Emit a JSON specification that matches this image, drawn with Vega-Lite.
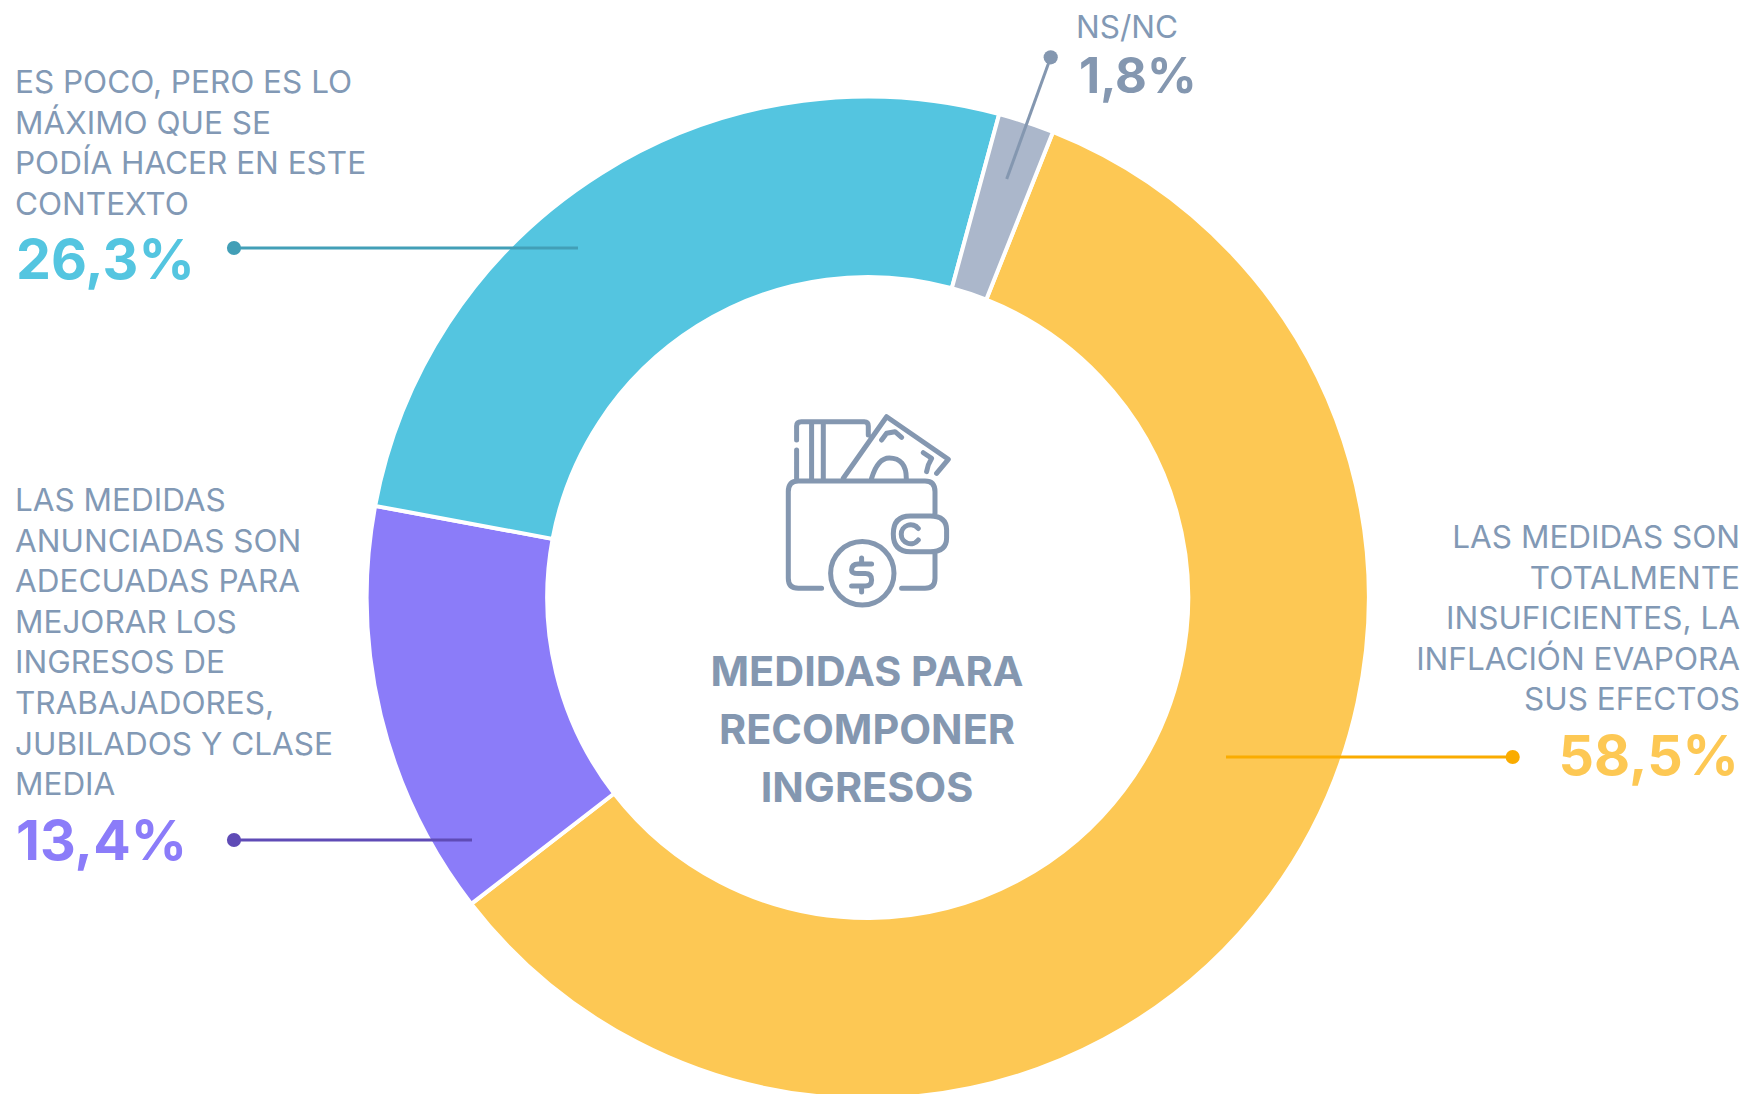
{
"$schema":"https://vega.github.io/schema/vega-lite/v6.json",
"width":1744,"height":1094,"padding":0,"autosize":{"type":"none"},"background":"white",
"config":{"view":{"stroke":null},"font":"Inter"},
"datasets":{
"segments":[
{"categoria":"Totalmente insuficientes","share":58.5,"orden":1},
{"categoria":"Adecuadas","share":13.4,"orden":2},
{"categoria":"Es poco","share":26.3,"orden":3},
{"categoria":"NS/NC","share":1.8,"orden":4}],
"leaders":[
{"categoria":"Totalmente insuficientes","x":1512.7,"y":757,"x2":1226,"y2":757},
{"categoria":"Adecuadas","x":234,"y":840,"x2":472,"y2":840},
{"categoria":"Es poco","x":234,"y":248,"x2":578,"y2":248},
{"categoria":"NS/NC","x":1050.7,"y":57.3,"x2":1006.7,"y2":179}],
"blocksL":[
{"categoria":"Es poco","texto":"ES POCO, PERO ES LO\nMÁXIMO QUE SE\nPODÍA HACER EN ESTE\nCONTEXTO","x":15,"y":93},
{"categoria":"Adecuadas","texto":"LAS MEDIDAS\nANUNCIADAS SON\nADECUADAS PARA\nMEJORAR LOS\nINGRESOS DE\nTRABAJADORES,\nJUBILADOS Y CLASE\nMEDIA","x":15,"y":511},
{"categoria":"NS/NC","texto":"NS/NC","x":1076,"y":38}],
"blocksR":[
{"categoria":"Totalmente insuficientes","texto":"LAS MEDIDAS SON\nTOTALMENTE\nINSUFICIENTES, LA\nINFLACIÓN EVAPORA\nSUS EFECTOS","x":1740,"y":548}],
"pctsL":[
{"categoria":"Es poco","pct":"26,3%","x":16,"y":279},
{"categoria":"Adecuadas","pct":"13,4%","x":16,"y":860}],
"pctsR":[
{"categoria":"Totalmente insuficientes","pct":"58,5%","x":1739,"y":775}],
"pctNS":[{"categoria":"NS/NC","pct":"1,8%","x":1079,"y":93}],
"title":[{"texto":"MEDIDAS PARA\nRECOMPONER\nINGRESOS","x":867,"y":686}],
"icon":[{"nombre":"billetera","x":868.3,"y":510}]
},
"layer":[
{"data":{"name":"segments"},
 "mark":{"type":"arc","radius":501,"radius2":320.5,"stroke":"white","strokeWidth":4},
 "encoding":{
  "x":{"datum":867.7,"type":"quantitative","scale":{"domain":[0,1744],"nice":false,"zero":false},"axis":null},
  "y":{"datum":597.5,"type":"quantitative","scale":{"domain":[0,1094],"nice":false,"zero":false,"reverse":true},"axis":null},
  "theta":{"field":"share","type":"quantitative","stack":true,"scale":{"domain":[0,100],"range":[0.3787,6.6619]}},
  "order":{"field":"orden","type":"quantitative"},
  "color":{"field":"categoria","type":"nominal","legend":null,"scale":{"domain":["Totalmente insuficientes","Adecuadas","Es poco","NS/NC"],"range":["#FDC854","#8B7CF9","#54C5E0","#ABB7CB"]}}
 }},
{"data":{"name":"leaders"},
 "layer":[
 {"mark":{"type":"rule","strokeWidth":3},
  "encoding":{
  "x":{"field":"x","type":"quantitative","scale":{"domain":[0,1744],"nice":false,"zero":false},"axis":null},
  "y":{"field":"y","type":"quantitative","scale":{"domain":[0,1094],"nice":false,"zero":false,"reverse":true},"axis":null},
  "x2":{"field":"x2"},"y2":{"field":"y2"},
  "color":{"field":"categoria","type":"nominal","legend":null,"scale":{"domain":["Totalmente insuficientes","Adecuadas","Es poco","NS/NC"],"range":["#FAAC00","#5F4BB6","#429FB7","#8497B0"]}}
  }},
 {"mark":{"type":"point","filled":true,"size":201,"opacity":1},
  "encoding":{
  "x":{"field":"x","type":"quantitative","scale":{"domain":[0,1744],"nice":false,"zero":false},"axis":null},
  "y":{"field":"y","type":"quantitative","scale":{"domain":[0,1094],"nice":false,"zero":false,"reverse":true},"axis":null},
  "color":{"field":"categoria","type":"nominal","legend":null,"scale":{"domain":["Totalmente insuficientes","Adecuadas","Es poco","NS/NC"],"range":["#FAAC00","#5F4BB6","#429FB7","#8497B0"]}}
  }}
 ]},
{"data":{"name":"blocksL"},
 "mark":{"type":"text","align":"left","baseline":"alphabetic","font":"Inter","fontSize":31.5,"lineHeight":40.6,"lineBreak":"\n","color":"#8299B5"},
 "encoding":{"x":{"field":"x","type":"quantitative","scale":{"domain":[0,1744],"nice":false,"zero":false},"axis":null},
  "y":{"field":"y","type":"quantitative","scale":{"domain":[0,1094],"nice":false,"zero":false,"reverse":true},"axis":null},
  "text":{"field":"texto"}}},
{"data":{"name":"blocksR"},
 "mark":{"type":"text","align":"right","baseline":"alphabetic","font":"Inter","fontSize":31.5,"lineHeight":40.6,"lineBreak":"\n","color":"#8299B5"},
 "encoding":{"x":{"field":"x","type":"quantitative","scale":{"domain":[0,1744],"nice":false,"zero":false},"axis":null},
  "y":{"field":"y","type":"quantitative","scale":{"domain":[0,1094],"nice":false,"zero":false,"reverse":true},"axis":null},
  "text":{"field":"texto"}}},
{"data":{"name":"pctsL"},
 "mark":{"type":"text","align":"left","baseline":"alphabetic","font":"Inter","fontWeight":"bold","fontSize":55.5},
 "encoding":{"x":{"field":"x","type":"quantitative","scale":{"domain":[0,1744],"nice":false,"zero":false},"axis":null},
  "y":{"field":"y","type":"quantitative","scale":{"domain":[0,1094],"nice":false,"zero":false,"reverse":true},"axis":null},
  "text":{"field":"pct"},
  "color":{"field":"categoria","type":"nominal","legend":null,"scale":{"domain":["Totalmente insuficientes","Adecuadas","Es poco","NS/NC"],"range":["#FDC854","#8B7CF9","#54C5E0","#8497B0"]}}}},
{"data":{"name":"pctsR"},
 "mark":{"type":"text","align":"right","baseline":"alphabetic","font":"Inter","fontWeight":"bold","fontSize":55.5},
 "encoding":{"x":{"field":"x","type":"quantitative","scale":{"domain":[0,1744],"nice":false,"zero":false},"axis":null},
  "y":{"field":"y","type":"quantitative","scale":{"domain":[0,1094],"nice":false,"zero":false,"reverse":true},"axis":null},
  "text":{"field":"pct"},
  "color":{"field":"categoria","type":"nominal","legend":null,"scale":{"domain":["Totalmente insuficientes","Adecuadas","Es poco","NS/NC"],"range":["#FDC854","#8B7CF9","#54C5E0","#8497B0"]}}}},
{"data":{"name":"pctNS"},
 "mark":{"type":"text","align":"left","baseline":"alphabetic","font":"Inter","fontWeight":"bold","fontSize":49,"color":"#8497B0"},
 "encoding":{"x":{"field":"x","type":"quantitative","scale":{"domain":[0,1744],"nice":false,"zero":false},"axis":null},
  "y":{"field":"y","type":"quantitative","scale":{"domain":[0,1094],"nice":false,"zero":false,"reverse":true},"axis":null},
  "text":{"field":"pct"}}},
{"data":{"name":"title"},
 "mark":{"type":"text","align":"center","baseline":"alphabetic","font":"Inter","fontWeight":"bold","fontSize":41.4,"lineHeight":58,"lineBreak":"\n","color":"#8497B0"},
 "encoding":{"x":{"field":"x","type":"quantitative","scale":{"domain":[0,1744],"nice":false,"zero":false},"axis":null},
  "y":{"field":"y","type":"quantitative","scale":{"domain":[0,1094],"nice":false,"zero":false,"reverse":true},"axis":null},
  "text":{"field":"texto"}}},
{"data":{"name":"icon"},
 "mark":{"type":"point","filled":false,"size":4,"opacity":1,"stroke":"#8497B0","strokeWidth":5,"strokeCap":"round","strokeJoin":"round",
  "shape":"M-46.7 78.3H-70Q-80 78.3 -80 68.3V-18.3Q-80 -29 -70 -29H56.7Q66.7 -29 66.7 -18.3V5M66.7 43.3V68.3Q66.7 78.3 56.7 78.3H33.3M42 6H62Q78.3 6 78.3 20V28Q78.3 41.7 62 41.7H42Q25 41.7 25 24Q25 6 42 6ZM50 18.5A9.5 9.5 0 1 0 50 30M25.7 63.3A31.7 31.7 0 1 0 -37.7 63.3A31.7 31.7 0 1 0 25.7 63.3ZM3.3 54H-10Q-16.7 54 -16.7 60Q-16.7 63.5 -10 63.5H-3Q3.3 63.5 3.3 70Q3.3 76 -3 76H-16.7M-6.7 48V53M-6.7 76V82M-71.7 -70V-84Q-71.7 -88.3 -67 -88.3H-4Q0 -88.3 0 -84V-75M-71.7 -60V-30M-56.7 -88.3V-30M-45 -88.3V-30M-25 -31.7L18.3 -93.3L80 -50.7L68.3 -36.7M3.3 -31.7C8 -47 14 -52 21 -52C32 -52 38 -45 38 -31.7M13.3 -70L18.3 -76.7L26.7 -78.3L33.3 -72.7M55 -57.3L63.3 -51.7L60 -45L58.3 -38.3"},
 "encoding":{"x":{"field":"x","type":"quantitative","scale":{"domain":[0,1744],"nice":false,"zero":false},"axis":null},
  "y":{"field":"y","type":"quantitative","scale":{"domain":[0,1094],"nice":false,"zero":false,"reverse":true},"axis":null}}}
],
"resolve":{"scale":{"color":"independent"}}
}
